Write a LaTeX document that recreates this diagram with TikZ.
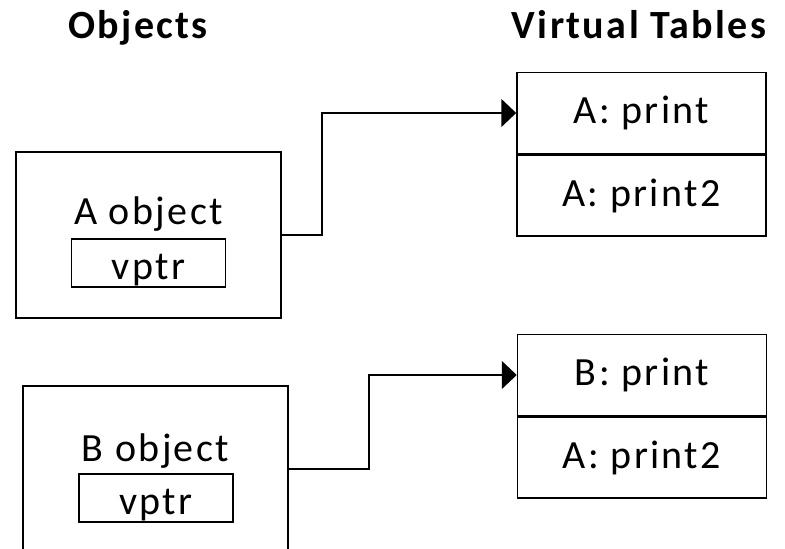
\documentclass[tikz,border=0pt]{standalone}
\usepackage{fontspec}
\setmainfont{Carlito}[LetterSpace=6]
\usetikzlibrary{arrows.meta}
\begin{document}
\begin{tikzpicture}[x=1pt,y=-1pt,line width=1.5pt,
  font=\fontsize{40}{44}\selectfont,
  objbox/.style={draw,minimum width=265pt,minimum height=166pt},
  ptrbox/.style={draw,minimum width=154pt,minimum height=48pt,inner sep=0pt},
  slot/.style={draw,minimum width=249pt,minimum height=81pt},
  title/.style={font=\fontsize{40}{44}\selectfont\bfseries,anchor=base}]
\clip (0,0) rectangle (785,549);
\node[title] (objtitle) at (138,38) {Objects};
\node[title] (vttitle) at (639,38) {Virtual Tables};
% objects
\node[objbox] (objA) at (148.5,235) {};
\node[anchor=base] (nameA) at (148.5,224) {A object};
\node[ptrbox] (ptrA) at (148.5,263) {};
\node[anchor=base] at (ptrA.center |- 0,279) {vptr};
\node[objbox] (objB) at (155.5,469) {};
\node[anchor=base] (nameB) at (155.5,461) {B object};
\node[ptrbox] (ptrB) at (156,498) {};
\node[anchor=base] at (ptrB.center |- 0,514) {vptr};
% virtual tables
\node[slot] (vtA1) at (641.5,113) {A: print};
\node[slot,anchor=north] (vtA2) at (vtA1.south) {A: print2};
\node[slot] (vtB1) at (642,375) {B: print};
\node[slot,anchor=north] (vtB2) at (vtB1.south) {A: print2};
\draw[-{Triangle[length=15pt,width=28pt]}] (objA.east) -- ++(40,0) |- (vtA1.west);
\draw[-{Triangle[length=15pt,width=28pt]}] (objB.east) -- ++(80,0) |- (vtB1.west);
\end{tikzpicture}
\end{document}
